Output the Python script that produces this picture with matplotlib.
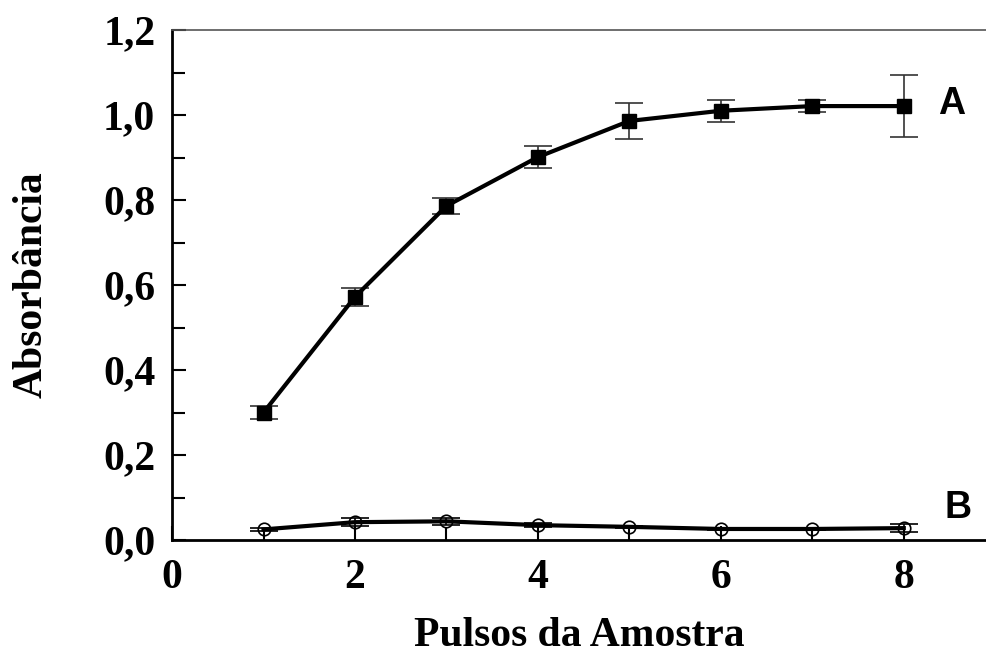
import matplotlib
matplotlib.use('Agg')
import matplotlib.pyplot as plt
from matplotlib.ticker import MultipleLocator, FuncFormatter

# pulses of sample vs absorbance
pulsos = [1, 2, 3, 4, 5, 6, 7, 8]
abs_a = [0.300, 0.572, 0.786, 0.901, 0.986, 1.010, 1.021, 1.021]
err_a = [0.015, 0.021, 0.019, 0.025, 0.042, 0.026, 0.015, 0.073]
abs_b = [0.025, 0.042, 0.044, 0.035, 0.031, 0.026, 0.026, 0.028]
err_b = [0.003, 0.010, 0.008, 0.004, 0.003, 0.003, 0.003, 0.010]

serif = 'Liberation Serif'
sans = 'Liberation Sans'

fig = plt.figure(figsize=(9.87, 6.58), dpi=100)
ax = fig.add_axes([0.1743, 0.1793, 0.8257, 0.7751])

ax.errorbar(pulsos, abs_a, yerr=err_a, fmt='s-', color='black', lw=3,
            ms=10, ecolor='#333333', elinewidth=1.2, capsize=10, capthick=1.2)
ax.errorbar(pulsos, abs_b, yerr=err_b, fmt='o-', color='black', lw=3,
            ms=9, mfc='none', mec='black', mew=1.2, ecolor='black',
            elinewidth=1.2, capsize=10, capthick=2)

ax.text(8.38, 1.025, 'A', fontsize=27, fontweight='bold', family=sans, va='center')
ax.text(8.45, 0.075, 'B', fontsize=27, fontweight='bold', family=sans, va='center')

ax.set_xlim(0, 8.91)
ax.set_ylim(0, 1.2)
ax.xaxis.set_major_locator(MultipleLocator(2))
ax.xaxis.set_minor_locator(MultipleLocator(1))
ax.yaxis.set_major_locator(MultipleLocator(0.2))
ax.yaxis.set_minor_locator(MultipleLocator(0.1))
ax.yaxis.set_major_formatter(FuncFormatter(lambda v, p: f'{v:.1f}'.replace('.', ',')))

ax.tick_params(which='both', direction='in', width=1.5, top=False, right=False)
ax.tick_params(which='major', length=10)
ax.tick_params(which='minor', length=9)
ax.tick_params(axis='y', pad=12)
ax.tick_params(axis='x', pad=14)
for lab in ax.get_xticklabels() + ax.get_yticklabels():
    lab.set_family(serif)
    lab.set_fontweight('bold')
    lab.set_fontsize(30)

ax.spines['left'].set_linewidth(2)
ax.spines['bottom'].set_linewidth(2)
ax.spines['top'].set_linewidth(1.2)
ax.spines['top'].set_color('#555555')
ax.spines['right'].set_visible(False)

ax.set_xlabel('Pulsos da Amostra', family=serif, fontweight='bold', fontsize=30, labelpad=14)
ax.set_ylabel('Absorbância', family=serif, fontweight='bold', fontsize=30, labelpad=38)

fig.savefig('out.png', dpi=100)
